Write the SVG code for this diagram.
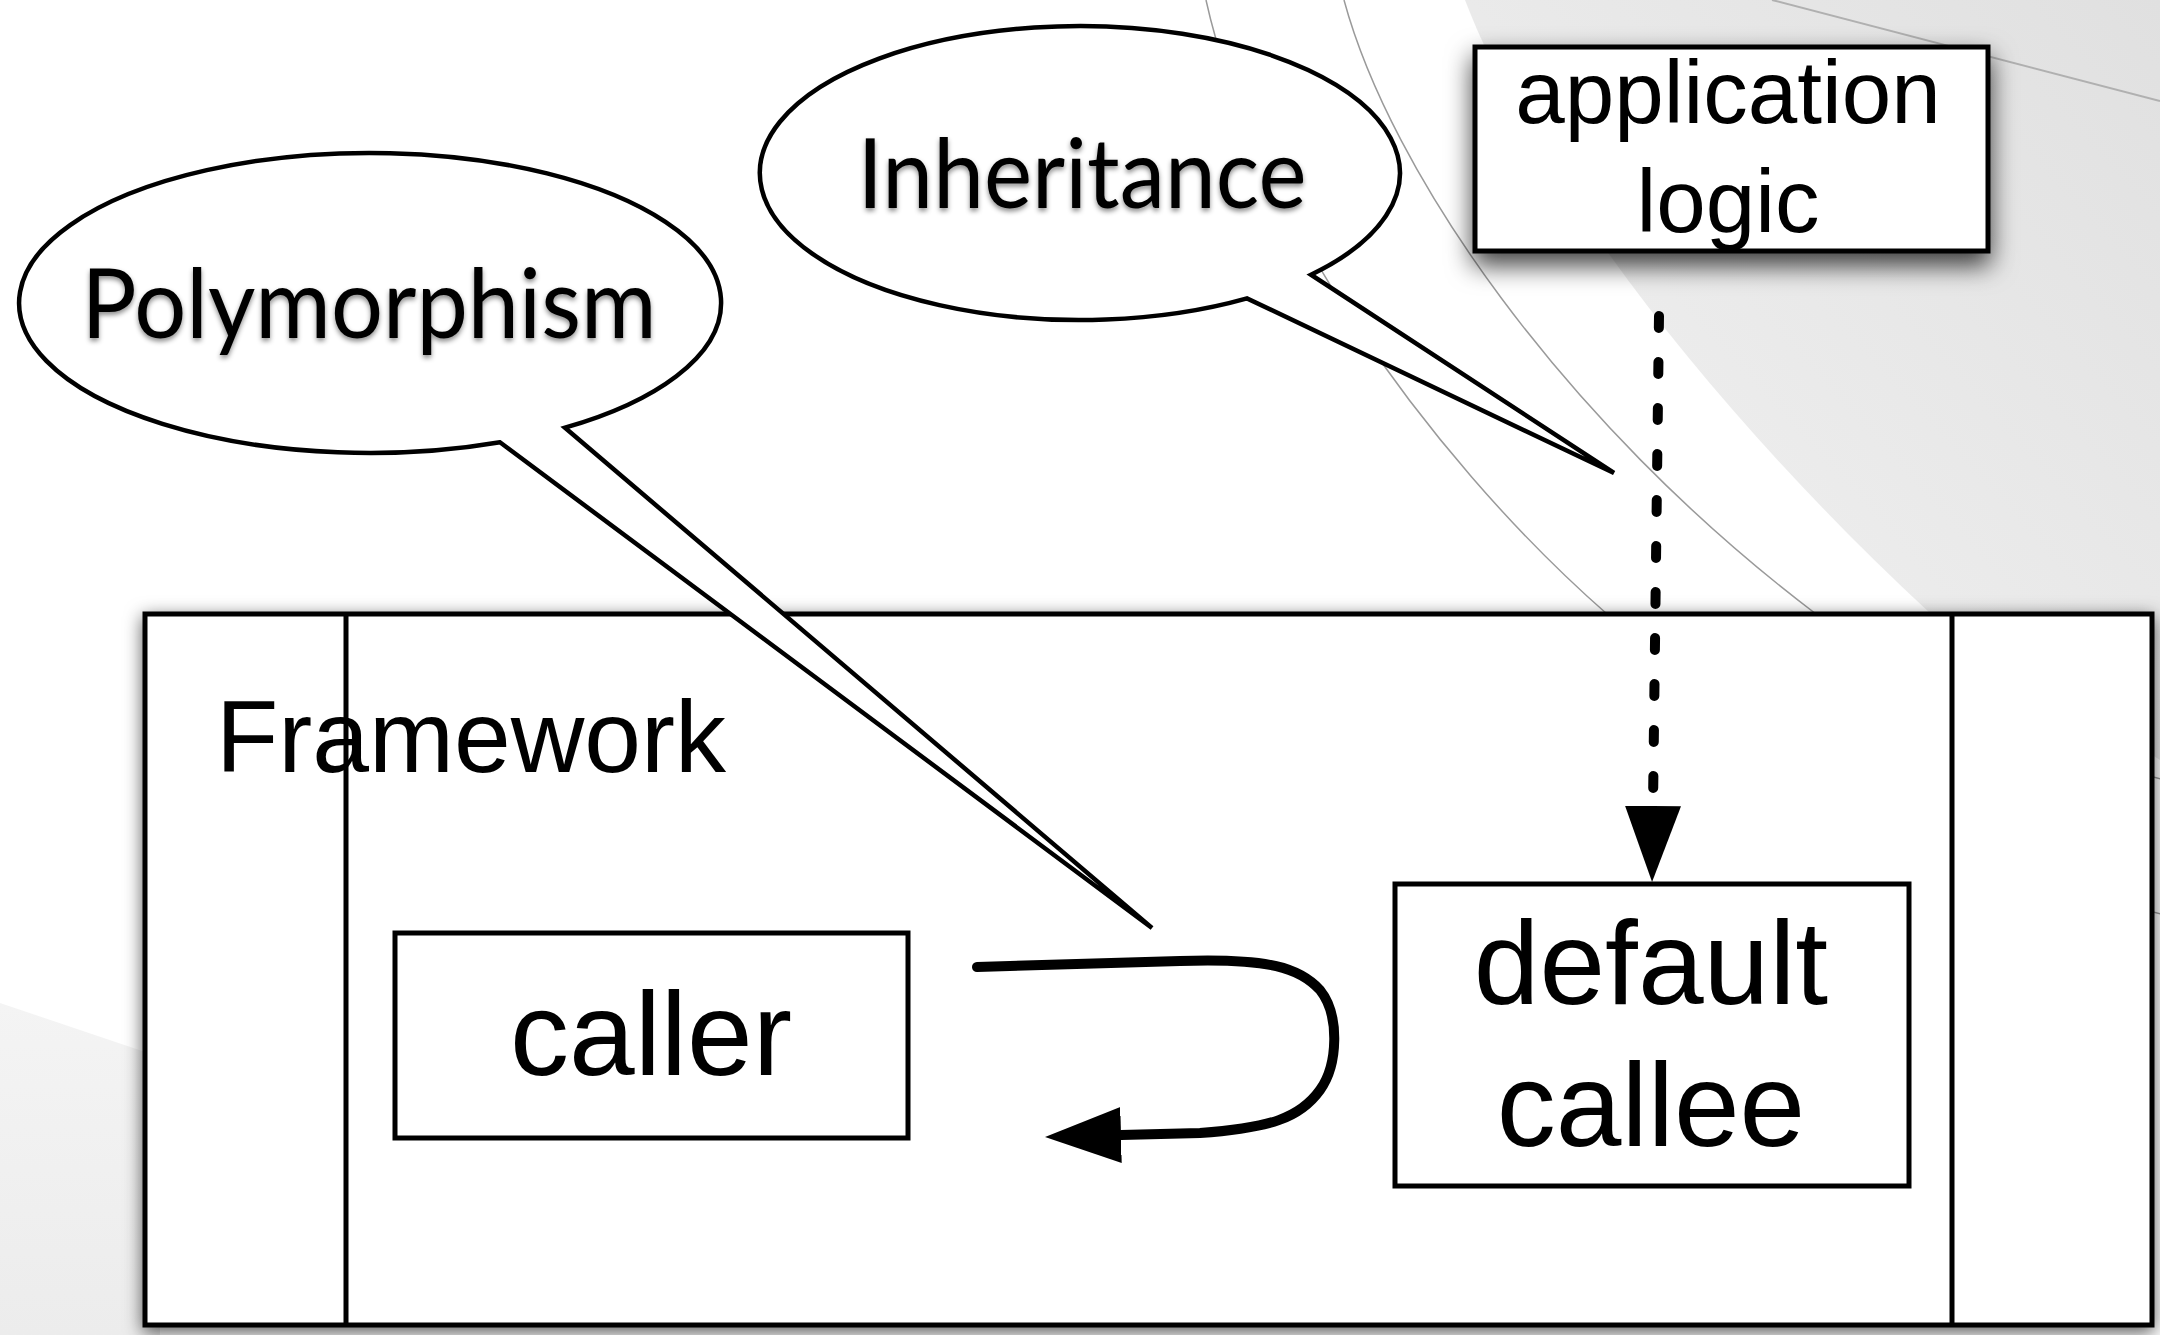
<svg xmlns="http://www.w3.org/2000/svg" width="2160" height="1335" viewBox="0 0 2160 1335">
  <defs>
    <style>
      .box { fill:#fff; stroke:#000; stroke-width:5; }
      .lbl { font-family:"Liberation Sans", Arial, Helvetica, sans-serif; fill:#000; text-anchor:middle; }
      .bub { fill:#fff; stroke:#000; stroke-width:4.5; stroke-linejoin:miter; stroke-miterlimit:4; }
      .btxt { font-family:Lato, "Noto Sans", sans-serif; font-size:97px; fill:#000; text-anchor:middle; }
      .arc { fill:none; stroke:#9a9a9a; stroke-width:1.5; }
      .conn { fill:none; stroke:#000; stroke-width:10; stroke-linecap:round; }
    </style>
    <filter id="shadowBig" x="-5%" y="-10%" width="110%" height="125%">
      <feDropShadow dx="0" dy="5" stdDeviation="9" flood-color="#000" flood-opacity="0.65"/>
    </filter>
    <filter id="shadowBox" x="-20%" y="-30%" width="140%" height="190%">
      <feDropShadow dx="0" dy="12" stdDeviation="13" flood-color="#000" flood-opacity="0.75"/>
    </filter>
    <filter id="textShadow" x="-5%" y="-20%" width="110%" height="150%">
      <feDropShadow dx="0" dy="3" stdDeviation="2.5" flood-color="#000" flood-opacity="0.45"/>
    </filter>
    <linearGradient id="bgTR" x1="1" y1="0" x2="0" y2="1">
      <stop offset="0" stop-color="#e0e0e0"/>
      <stop offset="1" stop-color="#f4f4f4"/>
    </linearGradient>
    <linearGradient id="bgBL" x1="0" y1="0" x2="0" y2="1">
      <stop offset="0" stop-color="#f4f4f4"/>
      <stop offset="1" stop-color="#ececec"/>
    </linearGradient>
    <marker id="tri" viewBox="0 0 76 56" refX="0" refY="28" markerWidth="76" markerHeight="56" markerUnits="userSpaceOnUse" orient="auto">
      <path d="M0,0 L76,28 L0,56 Z" fill="#000"/>
    </marker>
  </defs>

  <!-- background -->
  <rect x="0" y="0" width="2160" height="1335" fill="#fff"/>
  <path d="M1465 0 C1530 170 1700 400 1931 614 L2160 760 L2160 0 Z" fill="url(#bgTR)"/>
  <path d="M0 1003 L160 1057 L160 1335 L0 1335 Z" fill="url(#bgBL)"/>
  <line x1="1772" y1="0" x2="2160" y2="101" stroke="#b0b0b0" stroke-width="2"/>
  <path class="arc" d="M1206 0 C1250 200 1420 450 1607 614 C1800 790 1980 870 2165 915"/>
  <path class="arc" d="M1344 0 C1390 170 1560 420 1816 614 C1930 700 2040 750 2165 780"/>

  <g id="framework">
    <rect class="box" x="145" y="614" width="2007" height="711" filter="url(#shadowBig)"/>
    <text class="lbl" x="216" y="772" font-size="102" style="text-anchor:start">Framework</text>
    <line x1="346" y1="614" x2="346" y2="1325" stroke="#000" stroke-width="5"/>
    <line x1="1952" y1="614" x2="1952" y2="1325" stroke="#000" stroke-width="5"/>
  </g>

  <g id="caller">
    <rect class="box" x="395" y="933" width="513" height="205"/>
    <text class="lbl" x="651" y="1075" font-size="118">caller</text>
  </g>

  <g id="default-callee">
    <rect class="box" x="1395" y="884" width="514" height="302"/>
    <text class="lbl" x="1651" y="1004" font-size="118">default</text>
    <text class="lbl" x="1651" y="1146" font-size="118">callee</text>
  </g>

  <g id="connectors">
    <path class="conn" d="M977 967 L1180 961 C1270 958 1300 968 1320 990 C1340 1015 1338 1065 1320 1090 C1300 1118 1270 1128 1200 1133 L1121 1135" marker-end="url(#tri)"/>
    <path class="conn" d="M1659 316 L1653 806" stroke-dasharray="12 34" marker-end="url(#tri)"/>
  </g>

  <g id="bubble-polymorphism">
    <path class="bub" d="M565 427.7 A351 150 0 1 0 500 442.3 L1152 928 Z"/>
    <text class="btxt" x="369" y="338" textLength="575" lengthAdjust="spacingAndGlyphs" filter="url(#textShadow)">Polymorphism</text>
  </g>

  <g id="application-logic">
    <rect class="box" x="1475" y="47" width="513" height="204" filter="url(#shadowBox)"/>
    <text class="lbl" x="1728" y="123" font-size="89">application</text>
    <text class="lbl" x="1728" y="232" font-size="89">logic</text>
  </g>

  <g id="bubble-inheritance">
    <path class="bub" d="M1311 274.7 A320 147 0 1 0 1247 298.4 L1614 473 Z"/>
    <text class="btxt" x="1082" y="208" textLength="449" lengthAdjust="spacingAndGlyphs" filter="url(#textShadow)">Inheritance</text>
  </g>
</svg>
